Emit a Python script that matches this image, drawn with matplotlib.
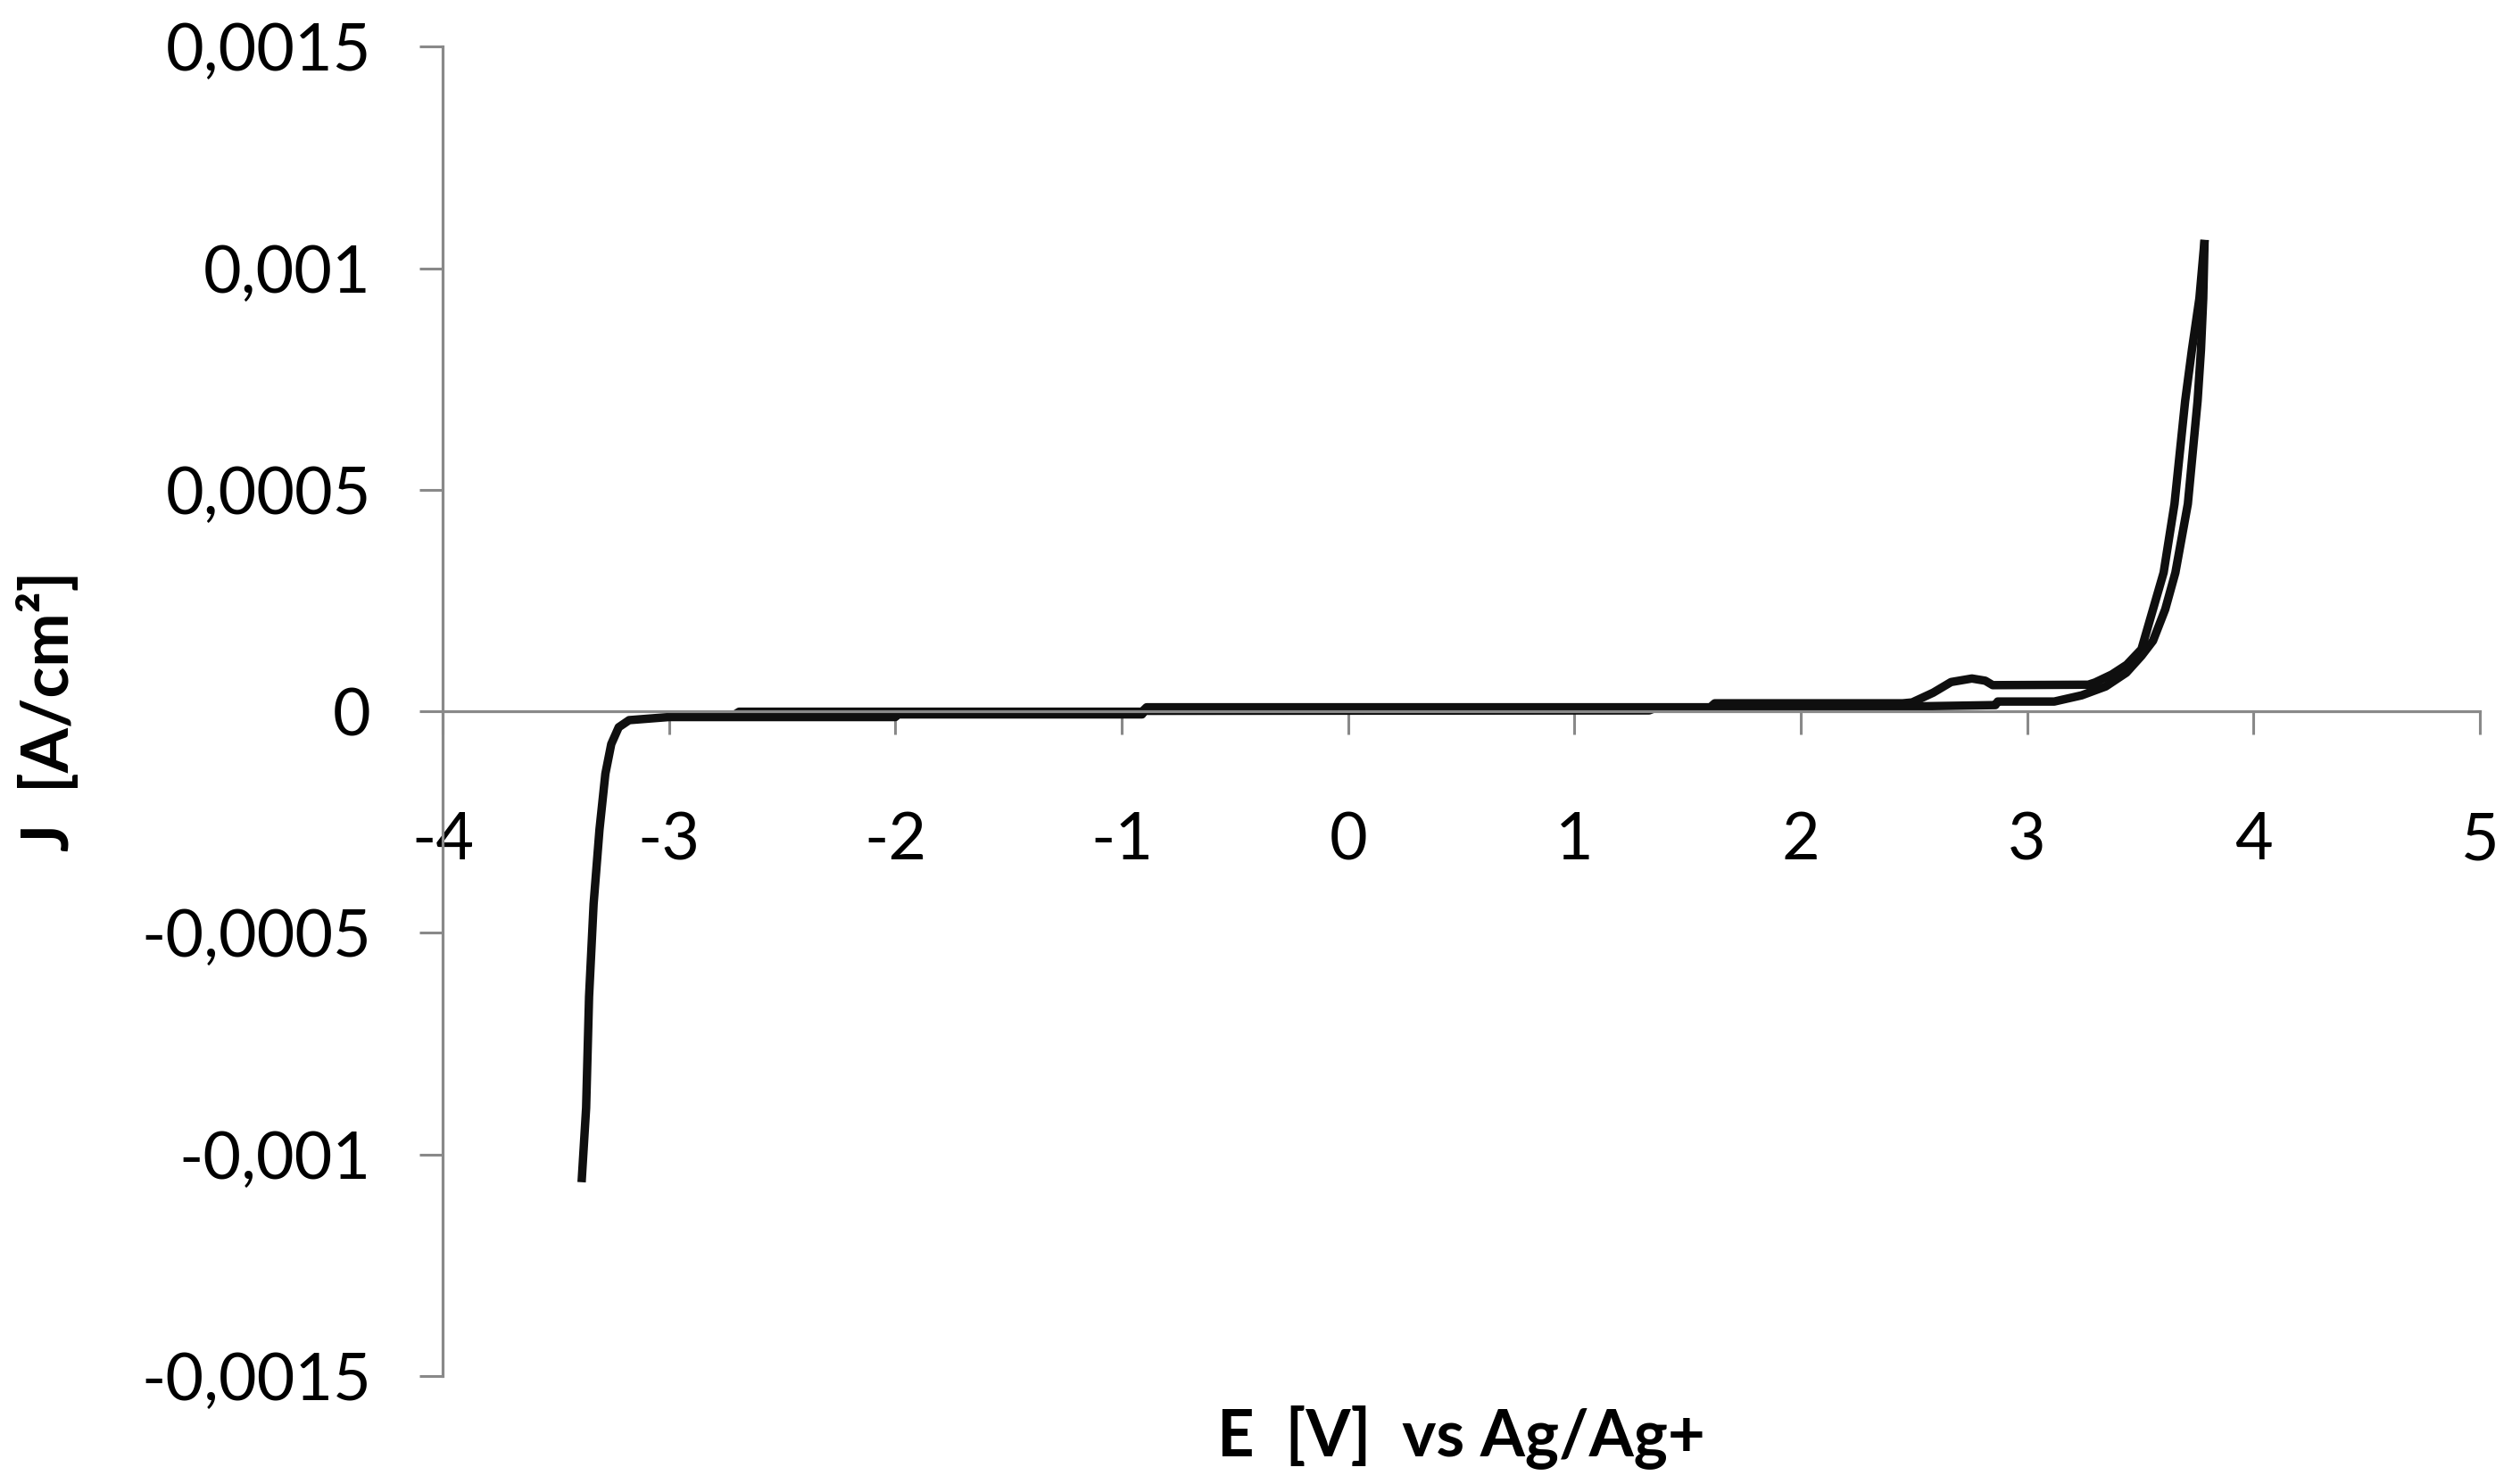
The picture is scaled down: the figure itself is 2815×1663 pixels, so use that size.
import numpy as np
import matplotlib.pyplot as plt
from matplotlib.ticker import FuncFormatter

# lower branch of the voltammogram (E in V vs Ag/Ag+, J in A/cm2)
e_low = [-3.386, -3.366, -3.353, -3.333, -3.307, -3.281, -3.255, -3.222, -3.176,
         -3.0, -2.0, -1.99, -0.91, -0.9, 1.33, 1.36, 2.5, 2.86, 2.87, 3.12,
         3.241, 3.347, 3.438, 3.505, 3.556, 3.61, 3.655, 3.71, 3.753, 3.768, 3.778, 3.784]
j_low = [-1.063e-3, -8.95e-4, -6.44e-4, -4.35e-4, -2.67e-4, -1.41e-4, -7.4e-5, -3.6e-5, -2.0e-5,
         -1.3e-5, -1.3e-5, -7e-6, -7e-6, 1e-6, 2e-6, 8e-6, 1.1e-5, 1.4e-5, 2.2e-5, 2.2e-5,
         3.6e-5, 5.6e-5, 8.7e-5, 1.25e-4, 1.59e-4, 2.3e-4, 3.13e-4, 4.68e-4, 7.0e-4, 8.16e-4, 9.32e-4, 1.064e-3]

# upper branch (with the small peak near 2.75 V)
e_up = [3.784, 3.761, 3.728, 3.698, 3.651, 3.603, 3.505, 3.44, 3.374, 3.30, 3.27,
        2.848, 2.815, 2.756, 2.664, 2.585, 2.492, 2.45, 1.62, 1.60, -0.89, -0.91,
        -2.69, -2.72]
j_up = [1.064e-3, 9.32e-4, 8.16e-4, 7.0e-4, 4.68e-4, 3.13e-4, 1.4e-4, 1.05e-4, 8.3e-5, 6.5e-5, 6.0e-5,
        5.9e-5, 6.9e-5, 7.4e-5, 6.6e-5, 4.2e-5, 2.0e-5, 1.8e-5, 1.8e-5, 9e-6, 9e-6, -1e-6,
        -1e-6, -1.1e-5]

x_ticks = list(range(-4, 6))
y_ticks = [-0.0015, -0.001, -0.0005, 0, 0.0005, 0.001, 0.0015]

axis_grey = '#898989'

fig = plt.figure(figsize=(28.15, 16.63), dpi=100)
ax = fig.add_axes([0.1762, 0.0729, 0.8110, 0.8956])

ax.plot(e_low, j_low, color='#0f0f0f', lw=6.8, solid_joinstyle='round', solid_capstyle='butt')
ax.plot(e_up, j_up, color='#0f0f0f', lw=6.8, solid_joinstyle='round', solid_capstyle='butt')

ax.set_xlim(-4, 5)
ax.set_ylim(-0.0015, 0.0015)
ax.set_xticks(x_ticks)
ax.set_yticks(y_ticks)

def comma_fmt(v, pos):
    return f"{v:g}".replace('.', ',')

ax.xaxis.set_major_formatter(FuncFormatter(comma_fmt))
ax.yaxis.set_major_formatter(FuncFormatter(comma_fmt))

for s in ['top', 'right']:
    ax.spines[s].set_visible(False)
ax.spines['bottom'].set_position(('data', 0))
for s in ['left', 'bottom']:
    ax.spines[s].set_color(axis_grey)
    ax.spines[s].set_linewidth(2.3)

ax.tick_params(axis='x', direction='out', length=18.7, width=2.2, color=axis_grey,
               pad=62, labelsize=53)
ax.tick_params(axis='y', direction='out', length=18.7, width=2.2, color=axis_grey,
               pad=39, labelsize=53)
for lab in ax.get_xticklabels() + ax.get_yticklabels():
    lab.set_fontfamily('Lato')

ax.set_xlabel('E  [V]  vs Ag/Ag+', fontfamily='Lato', fontweight='bold', fontsize=52)
ax.set_ylabel('J  [A/cm²]', fontfamily='Lato', fontweight='bold', fontsize=52)
ax.xaxis.set_label_coords(0.5, -0.022)
ax.yaxis.set_label_coords(-0.178, 0.5)

fig.savefig('out.png', dpi=100)
